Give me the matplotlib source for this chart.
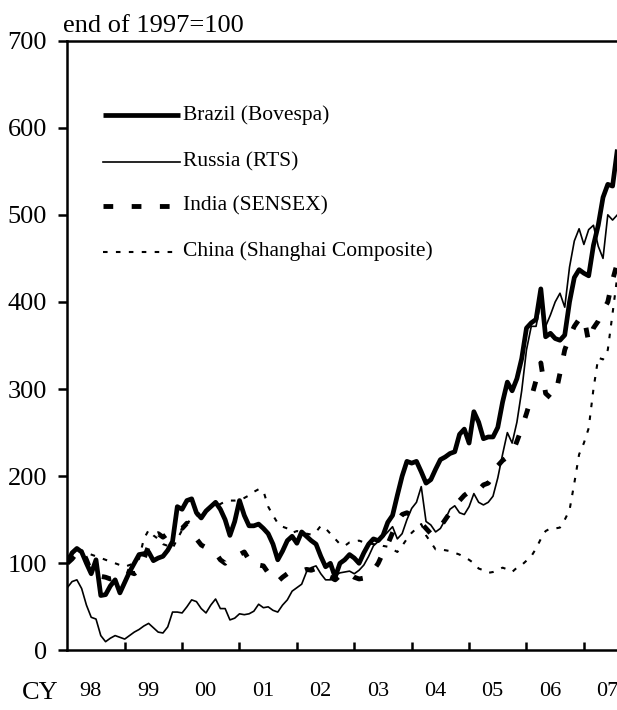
import numpy as np
import matplotlib
matplotlib.use("Agg")
import matplotlib.pyplot as plt

plt.rcParams['font.family'] = ['Liberation Serif', 'DejaVu Serif']

# monthly index, end of 1997 = 100, Jan 1998 .. Aug 2007
brazil = [100, 112, 117, 113, 100, 88, 104, 63, 64, 74, 81, 66,
          78, 90, 100, 110, 111, 113, 103, 106, 108, 115, 125, 165,
          162, 172, 174, 158, 152, 160, 165, 170, 162, 150, 132, 148,
          172, 155, 143, 143, 145, 140, 134, 122, 104, 114, 126, 131,
          123, 136, 131, 126, 122, 108, 96, 100, 84, 100, 104, 110,
          106, 100, 112, 122, 128, 126, 132, 147, 155, 178, 200, 217,
          215, 217, 205, 192, 196, 208, 219, 222, 226, 228, 248, 254,
          238, 274, 262, 243, 245, 245, 256, 285, 308, 298, 312, 335,
          370, 376, 380, 415, 360, 364, 358, 356, 362, 400, 428, 437,
          433, 430, 465, 488, 520, 535, 533, 575]

russia = [72, 79, 81, 71, 52, 38, 36, 17, 10, 14, 17, 15,
          13, 17, 21, 24, 28, 31, 26, 21, 20, 27, 44, 44,
          43, 50, 58, 56, 48, 43, 52, 59, 48, 48, 35, 37,
          42, 41, 42, 45, 53, 49, 50, 46, 44, 52, 58, 68,
          72, 76, 90, 95, 97, 88, 81, 81, 86, 89, 90, 91,
          88, 92, 98, 108, 120, 125, 130, 136, 142, 128, 134, 150,
          163, 170, 188, 148, 144, 136, 140, 150, 162, 166, 158, 156,
          165, 180, 170, 167, 170, 177, 198, 225, 250, 238, 262, 298,
          345, 372, 372, 400, 372, 385, 400, 410, 394, 440, 470, 484,
          466, 483, 488, 464, 450, 500, 494, 500]

india = [100, 105, 112, 116, 104, 90, 88, 85, 84, 82, 83, 88,
         92, 90, 88, 92, 105, 120, 132, 134, 130, 134, 140, 142,
         140, 146, 136, 128, 121, 118, 117, 112, 104, 100, 106, 108,
         110, 113, 104, 96, 98, 97, 89, 88, 79, 84, 88, 89,
         89, 91, 93, 92, 94, 90, 86, 84, 81, 86, 90, 88,
         84, 82, 83, 86, 92, 100, 112, 122, 135, 148, 156, 158,
         155, 150, 146, 140, 134, 134, 142, 150, 158, 165, 172, 178,
         182, 186, 184, 190, 192, 200, 212, 218, 222, 226, 240, 255,
         272, 290, 310, 330, 295, 290, 292, 318, 345, 360, 372, 380,
         383, 354, 370, 378, 390, 400, 425, 445]

china = [108, 110, 114, 115, 112, 110, 108, 106, 104, 102, 100, 98,
         96, 98, 100, 105, 128, 138, 132, 128, 122, 120, 117, 128,
         138, 145, 152, 155, 160, 162, 164, 166, 168, 171, 172, 172,
         173, 175, 178, 182, 185, 183, 165, 155, 146, 142, 140, 135,
         137, 136, 134, 133, 136, 143, 140, 134, 128, 122, 120, 124,
         125, 126, 124, 123, 122, 122, 120, 119, 116, 113, 120, 128,
         135, 140, 145, 132, 124, 116, 116, 115, 114, 112, 110, 107,
         104, 100, 94, 92, 89, 90, 92, 95, 93, 90, 95, 98,
         103, 108, 117, 128, 137, 140, 140, 141, 150, 161, 192, 225,
         238, 255, 300, 336, 334, 345, 387, 430]

labels = ["Brazil (Bovespa)", "Russia (RTS)", "India (SENSEX)",
          "China (Shanghai Composite)"]
years = ["98", "99", "00", "01", "02", "03", "04", "05", "06", "07"]

t = 1998 + np.arange(len(brazil)) / 12.0

fig = plt.figure(figsize=(6.17, 7.10), dpi=100)
ax = fig.add_axes([67.3 / 617, (710 - 650.4) / 710, (617 - 67.3) / 617, 609.8 / 710])

styles = [
    dict(lw=3.4, ls="-", solid_capstyle="butt"),
    dict(lw=1.2, ls="-"),
    dict(lw=3.5, ls=(0, (2.0, 3.8)), dash_capstyle="butt"),
    dict(lw=1.5, ls=(0, (2.2, 4.0)), dash_capstyle="butt"),
]
series = [brazil, russia, india, china]

for vals, st in zip(series, styles):
    ax.plot(t, vals, color="black", **st)

# legend drawn by hand
rows = [0.878, 0.801, 0.729, 0.654]
for y, st, lab in zip(rows, styles, labels):
    ax.plot([0.0644, 0.205], [y, y], transform=ax.transAxes, color="black", **st)
    ax.text(0.211, y, lab, transform=ax.transAxes, fontsize=15.5, va="center", ha="left")

ax.set_xlim(1998, 2007.577)
ax.set_ylim(0, 700)
ax.set_yticks(range(0, 701, 100))

ax.set_xticks(range(1999, 2008))
ax.set_xticklabels([])
# year labels sit a little left of the middle of each year
ax.set_xticks(np.arange(1998.41, 2008, 1.0), minor=True)
ax.set_xticklabels(years, minor=True, fontsize=16)

ax.tick_params(axis="y", direction="out", length=6.5, width=1.8, pad=8, labelsize=19)
ax.tick_params(axis="x", which="major", direction="in", length=5.5, width=1.8)
ax.tick_params(axis="x", which="minor", length=0, pad=23)

for s in ["left", "bottom", "top"]:
    ax.spines[s].set_linewidth(1.8)
ax.spines["right"].set_visible(False)

fig.text(63 / 617, 1 - 31.5 / 710, "end of 1997=100", fontsize=19, va="baseline", ha="left")
fig.text(22 / 617, 1 - 693 / 710, "CY", fontsize=19, va="center", ha="left")

fig.savefig("out.png", dpi=100)
